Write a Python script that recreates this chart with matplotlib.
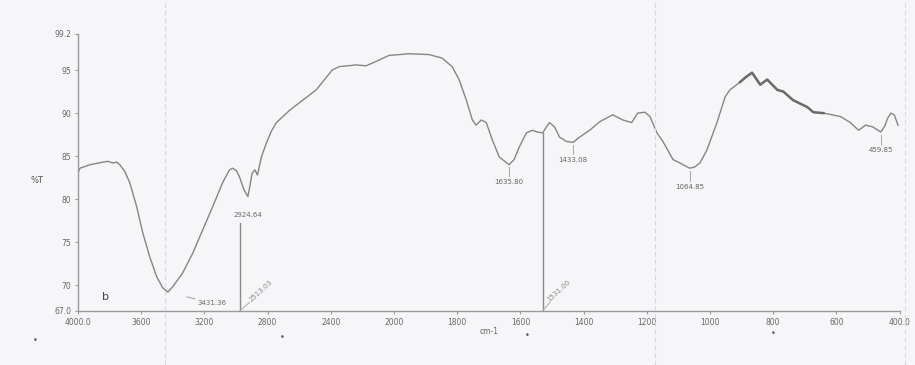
import numpy as np
import matplotlib.pyplot as plt
from matplotlib.lines import Line2D

# FTIR spectrum, wavenumber (cm-1) vs %T
wavenumber = [4000, 3987, 3924, 3842, 3811, 3779, 3754, 3735, 3703, 3672,
              3628, 3590, 3546, 3502, 3464, 3431.36, 3401, 3338, 3274, 3211,
              3148, 3085, 3041, 3022, 2997, 2978, 2950, 2924.64, 2910, 2898,
              2880, 2864, 2839, 2808, 2776, 2744, 2662, 2599, 2492, 2391,
              2347, 2240, 2177, 2114, 2032, 1952, 1889, 1848, 1816, 1794,
              1771, 1752, 1740, 1724, 1708, 1689, 1667, 1635.80, 1620, 1603,
              1581, 1562, 1546, 1530, 1508, 1492, 1476, 1454, 1433.08, 1413,
              1381, 1349, 1308, 1276, 1248, 1229, 1206, 1190, 1168, 1149,
              1117, 1095, 1064.85, 1050, 1032, 1010, 978, 952, 937, 905,
              886, 867, 841, 819, 787, 768, 737, 692, 673, 641,
              587, 556, 530, 508, 485, 459.85, 447, 438, 428, 417, 405]
transmittance = [83.05, 83.6, 84.0, 84.3, 84.4, 84.2, 84.3, 84.0, 83.2, 81.9,
                 79.1, 76.1, 73.3, 71.0, 69.7, 69.2, 69.8, 71.4, 73.7, 76.4,
                 79.1, 81.9, 83.4, 83.6, 83.3, 82.6, 81.1, 80.3, 81.7, 83.0,
                 83.4, 82.8, 84.9, 86.5, 87.9, 88.9, 90.3, 91.2, 92.7, 95.0,
                 95.4, 95.6, 95.5, 96.0, 96.7, 96.9, 96.8, 96.4, 95.4, 93.9,
                 91.5, 89.2, 88.6, 89.2, 88.9, 86.9, 84.9, 84.0, 84.6, 86.1,
                 87.7, 88.0, 87.8, 87.7, 88.9, 88.4, 87.2, 86.7, 86.6, 87.2,
                 88.0, 89.0, 89.8, 89.2, 88.9, 90.0, 90.1, 89.6, 87.7, 86.7,
                 84.6, 84.2, 83.6, 83.7, 84.2, 85.7, 88.9, 91.9, 92.7, 93.6,
                 94.2, 94.7, 93.3, 93.9, 92.7, 92.5, 91.5, 90.7, 90.1, 90.0,
                 89.6, 88.9, 88.0, 88.6, 88.4, 87.8, 88.5, 89.4, 90.0, 89.8, 88.6]

xticks = [4000, 3600, 3200, 2800, 2400, 2000, 1800, 1600, 1400, 1200, 1000, 800, 600, 400]
xticklabels = ['4000.0', '3600', '3200', '2800', '2400', '2000', '1800', '1600',
               '1400', '1200', '1000', '800', '600', '400.0']
yticks = [67.0, 70, 75, 80, 85, 90, 95, 99.2]
yticklabels = ['67.0', '70', '75', '80', '85', '90', '95', '99.2']

grey = '#858585'
bg = '#f6f6f9'


# scale change at 2000 cm-1: the high range is compressed by half
def fwd(x):
    x = np.asarray(x, dtype=float)
    return np.where(x > 2000, 2000 + (x - 2000) / 2, x)


def inv(u):
    u = np.asarray(u, dtype=float)
    return np.where(u > 2000, 2000 + (u - 2000) * 2, u)


fig = plt.figure(figsize=(9.15, 3.65), dpi=100, facecolor=bg)
ax = fig.add_axes([0.0852, 0.148, 0.898, 0.759])
ax.set_facecolor(bg)
ax.set_xscale('function', functions=(fwd, inv))
ax.set_xlim(4000, 400)
ax.set_ylim(67.0, 99.2)

wn = np.array(wavenumber)
tr = np.array(transmittance)
ax.plot(wn, tr, color=grey, lw=1.0)
# noisy fingerprint stretch prints darker
seg = (wn <= 930) & (wn >= 640)
ax.plot(wn[seg], tr[seg], color='#6a6a6a', lw=1.8)

for s in ['top', 'right']:
    ax.spines[s].set_visible(False)
for s in ['left', 'bottom']:
    ax.spines[s].set_color('#9a9a9a')
    ax.spines[s].set_linewidth(1.0)

ax.set_xticks(xticks)
ax.set_xticklabels(xticklabels)
ax.set_yticks(yticks)
ax.set_yticklabels(yticklabels)
ax.tick_params(axis='both', colors='#9a9a9a', labelcolor='#666666', labelsize=5.5,
               length=2.5, width=0.8, pad=2.5)
ax.minorticks_off()

fig.text(0.040, 0.505, '%T', fontsize=6, color='#555555', ha='center', va='center')
fig.text(0.535, 0.092, 'cm-1', fontsize=5.5, color='#666666', ha='center', va='center')
ax.text(3825, 68.6, 'b', fontsize=8, color='#444444', ha='center', va='center')

# peak labels
tr_at = dict(zip(wavenumber, transmittance))
txt = dict(fontsize=5, color='#666666', ha='center', va='center')
ax.annotate('3431.36', xy=(3431.36, tr_at[3431.36]), xytext=(3150, 67.9),
            arrowprops=dict(arrowstyle='-', color='#999999', lw=0.7, shrinkA=0, shrinkB=14), **txt)
ax.text(2924.64, 78.2, '2924.64', **txt)
label_y = {1635.80: 82.0, 1433.08: 84.6, 1064.85: 81.4, 459.85: 85.7}
for p, ty in label_y.items():
    ax.plot([p, p], [tr_at[p] - 0.3, ty + 0.7], color='#999999', lw=0.6)
    ax.text(p, ty, f'{p:.2f}', **txt)

# cursor markers with slanted readouts
markers = [(2975, 77.2, '2513.03', 2840), (1530, 87.7, '1531.00', 1478)]
for xm, ytop, lab, xl in markers:
    ax.plot([xm, xm], [67.0, ytop], color='#8a8a8a', lw=1.0)
    ax.plot([xm, xl + (xm - xl) * 0.55], [67.0, 68.0], color='#aaaaaa', lw=0.7)
    ax.text(xl, 69.4, lab, rotation=42, fontsize=5, color='#888888', ha='center', va='center')

# faint fold lines and dots on the sheet
for fx in [0.180, 0.716, 0.989]:
    fig.add_artist(Line2D([fx, fx], [0.0, 1.0], color='#d6d6dc', lw=0.8, ls=(0, (4, 3))))
for dx, dy in [(0.038, 0.066), (0.308, 0.076), (0.576, 0.082), (0.845, 0.086)]:
    fig.text(dx, dy, '•', fontsize=6, color='#555555', ha='center', va='center')

fig.savefig('out.png', dpi=100, facecolor=bg)
